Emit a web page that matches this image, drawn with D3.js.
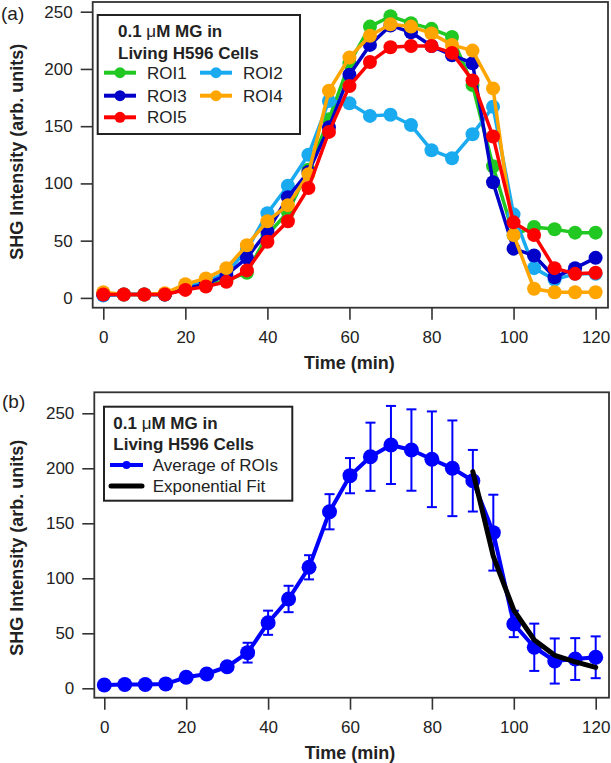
<!DOCTYPE html>
<html>
<head>
<meta charset="utf-8">
<script src="https://cdn.jsdelivr.net/npm/d3@7"></script>
<style>
  body { margin: 0; background: #fff; }
  svg { display: block; font-family: "Liberation Sans", Arial, sans-serif; }
</style>
</head>
<body>
<div id="chart"></div>
<script>
// time points (min)
var times = [0,5,10,15,20,25,30,35,40,45,50,55,60,65,70,75,80,85,90,95,100,105,110,115,120];

// panel (a): SHG intensity of each ROI
var roi1 = [3,3,3,3,8,11,15,22,55,75,112,156,205,237,246,240,235,228,186,115,55,62,60,57,57];
var roi2 = [2,3,3,3,10,14,22,42,74,98,125,172,170,159,160,151,129,122,143,167,73,26,16,21,21];
var roi3 = [3,3,3,3,8,12,20,35,58,88,110,149,195,221,238,232,220,212,205,101,43,37,18,26,35];
var roi4 = [5,3,3,4,12,17,26,46,67,81,108,181,210,229,239,237,231,221,216,183,55,8,5,5,5];
var roi5 = [3,3,3,3,7,10,14,24,49,67,96,145,185,206,219,220,220,214,190,141,66,55,26,21,22];
var roiNames = ["ROI1", "ROI2", "ROI3", "ROI4", "ROI5"];
var roiColors = ["#22c822", "#19aaf0", "#0000c8", "#ffa500", "#ff0000"];

// panel (b): average of ROIs with error, plus exponential fit
var avg = [3,3.5,3.5,4,10,13,19.6,32.4,59.6,81.2,110,160.5,193.3,210.5,221.2,216.6,208.2,200,188.7,141.5,58.5,37.3,24.8,26.6,28.2];
var avgErr = [1,1,1,1,2,3,4,9,11,12,11,16,16,31,35.5,37,43.5,43.5,28,34.5,12,21.5,20.5,19,19];
var fitTimes = [90,95,100,105,110,115,120];
var fitValues = [197,120,71,44,30,24,19];

var xTicks = [0,20,40,60,80,100,120];
var yTicks = [0,50,100,150,200,250];

var svg = d3.select("#chart").append("svg")
  .attr("width", 611)
  .attr("height", 763);

function drawFrame(x, y, box) {
  var xAxis = d3.axisBottom(x).tickValues(xTicks).tickSize(12).tickPadding(11);
  var yAxis = d3.axisLeft(y).tickValues(yTicks).tickSize(12).tickPadding(8);

  var gx = svg.append("g")
    .attr("transform", `translate(0, ${box.bottom})`)
    .call(xAxis);
  var gy = svg.append("g")
    .attr("transform", `translate(${box.left}, 0)`)
    .call(yAxis);

  [gx, gy].forEach(function(g) {
    g.select(".domain").remove();
    g.selectAll("line").attr("stroke", "#333").attr("stroke-width", 1.6);
    g.selectAll("text").attr("font-size", "17px").attr("fill", "#222")
      .attr("font-family", "Liberation Sans, Arial, sans-serif");
  });

  svg.append("rect")
    .attr("x", box.left)
    .attr("y", box.top)
    .attr("width", box.right - box.left)
    .attr("height", box.bottom - box.top)
    .attr("fill", "none")
    .attr("stroke", "#333")
    .attr("stroke-width", 1.8);

  // axis titles
  svg.append("text")
    .attr("transform", `translate(23, ${(y(0) + y(250)) / 2 - 3}) rotate(-90)`)
    .attr("text-anchor", "middle")
    .attr("font-size", "18px")
    .attr("font-weight", "bold")
    .attr("fill", "#222")
    .text("SHG Intensity (arb. units)");

  svg.append("text")
    .attr("x", (x(0) + x(120)) / 2)
    .attr("y", box.bottom + 61)
    .attr("text-anchor", "middle")
    .attr("font-size", "18px")
    .attr("font-weight", "bold")
    .attr("fill", "#222")
    .text("Time (min)");
}

function legendTitle(x0, y1, y2) {
  var t1 = svg.append("text")
    .attr("x", x0).attr("y", y1)
    .attr("font-size", "17px").attr("font-weight", "bold").attr("fill", "#222");
  t1.append("tspan").text("0.1 ");
  t1.append("tspan").attr("font-weight", "normal").text("\u03BC");
  t1.append("tspan").text("M MG in");
  svg.append("text")
    .attr("x", x0).attr("y", y2)
    .attr("font-size", "17px").attr("font-weight", "bold").attr("fill", "#222")
    .text("Living H596 Cells");
}

// ---------- panel (a) ----------
var xA = d3.scaleLinear().domain([0, 120]).range([103.3, 595.6]);
var yA = d3.scaleLinear().domain([0, 250]).range([297.9, 11.7]);
drawFrame(xA, yA, {left: 92.7, right: 608, top: 2, bottom: 307.7});

var roiData = [roi1, roi2, roi3, roi4, roi5];
var lineA = d3.line()
  .x(function(d, i) { return xA(times[i]); })
  .y(function(d) { return yA(d); });

roiData.forEach(function(series, k) {
  var g = svg.append("g");
  g.append("path")
    .datum(series)
    .attr("d", lineA)
    .attr("fill", "none")
    .attr("stroke", roiColors[k])
    .attr("stroke-width", 3.5)
    .attr("stroke-linejoin", "round");
  g.selectAll("circle")
    .data(series)
    .enter()
    .append("circle")
    .attr("cx", function(d, i) { return xA(times[i]); })
    .attr("cy", function(d) { return yA(d); })
    .attr("r", 7)
    .attr("fill", roiColors[k]);
});

// legend (a)
svg.append("rect")
  .attr("x", 97.7).attr("y", 15)
  .attr("width", 202.3).attr("height", 119)
  .attr("fill", "#fff")
  .attr("stroke", "#222")
  .attr("stroke-width", 2);
legendTitle(118, 37, 59);

var legendPos = [
  {x: 104, y: 72.7}, {x: 200, y: 72.7},
  {x: 104, y: 95.7}, {x: 200, y: 95.7},
  {x: 104, y: 117.3}
];
roiNames.forEach(function(name, k) {
  var p = legendPos[k];
  svg.append("line")
    .attr("x1", p.x).attr("x2", p.x + 32)
    .attr("y1", p.y).attr("y2", p.y)
    .attr("stroke", roiColors[k]).attr("stroke-width", 4);
  svg.append("circle")
    .attr("cx", p.x + 16).attr("cy", p.y).attr("r", 5.5)
    .attr("fill", roiColors[k]);
  svg.append("text")
    .attr("x", p.x + 43).attr("y", p.y + 6)
    .attr("font-size", "17px").attr("fill", "#222")
    .text(name);
});

svg.append("text")
  .attr("x", 1).attr("y", 20)
  .attr("font-size", "19px").attr("fill", "#222")
  .text("(a)");

// ---------- panel (b) ----------
var xB = d3.scaleLinear().domain([0, 120]).range([104.3, 595.7]);
var yB = d3.scaleLinear().domain([0, 250]).range([688.3, 413.3]);
drawFrame(xB, yB, {left: 94.3, right: 609, top: 392.3, bottom: 697.7});

var blue = "#0000ff";
var errG = svg.append("g").attr("stroke", blue).attr("stroke-width", 2);
avg.forEach(function(v, i) {
  var cx = xB(times[i]);
  var top = yB(v + avgErr[i]);
  var bot = yB(v - avgErr[i]);
  errG.append("line").attr("x1", cx).attr("x2", cx).attr("y1", top).attr("y2", bot);
  errG.append("line").attr("x1", cx - 5).attr("x2", cx + 5).attr("y1", top).attr("y2", top);
  errG.append("line").attr("x1", cx - 5).attr("x2", cx + 5).attr("y1", bot).attr("y2", bot);
});

var lineB = d3.line()
  .x(function(d, i) { return xB(times[i]); })
  .y(function(d) { return yB(d); });
svg.append("path")
  .datum(avg)
  .attr("d", lineB)
  .attr("fill", "none")
  .attr("stroke", blue)
  .attr("stroke-width", 4)
  .attr("stroke-linejoin", "round");
svg.append("g").selectAll("circle")
  .data(avg)
  .enter()
  .append("circle")
  .attr("cx", function(d, i) { return xB(times[i]); })
  .attr("cy", function(d) { return yB(d); })
  .attr("r", 7.5)
  .attr("fill", blue);

var fitLine = d3.line()
  .x(function(d, i) { return xB(fitTimes[i]); })
  .y(function(d) { return yB(d); });
svg.append("path")
  .datum(fitValues)
  .attr("d", fitLine)
  .attr("fill", "none")
  .attr("stroke", "#000")
  .attr("stroke-width", 5)
  .attr("stroke-linejoin", "round")
  .attr("stroke-linecap", "round");

// legend (b)
svg.append("rect")
  .attr("x", 104).attr("y", 406.7)
  .attr("width", 188.3).attr("height", 94)
  .attr("fill", "#fff")
  .attr("stroke", "#222")
  .attr("stroke-width", 2);
legendTitle(113.3, 429, 450);

svg.append("line")
  .attr("x1", 110).attr("x2", 143)
  .attr("y1", 465).attr("y2", 465)
  .attr("stroke", blue).attr("stroke-width", 4);
svg.append("circle")
  .attr("cx", 126.5).attr("cy", 465).attr("r", 4)
  .attr("fill", blue);
svg.append("text")
  .attr("x", 152.7).attr("y", 471)
  .attr("font-size", "17px").attr("fill", "#222")
  .text("Average of ROIs");

svg.append("line")
  .attr("x1", 111).attr("x2", 142)
  .attr("y1", 486).attr("y2", 486)
  .attr("stroke", "#000").attr("stroke-width", 5)
  .attr("stroke-linecap", "round");
svg.append("text")
  .attr("x", 152.7).attr("y", 492)
  .attr("font-size", "17px").attr("fill", "#222")
  .text("Exponential Fit");

svg.append("text")
  .attr("x", 2).attr("y", 408)
  .attr("font-size", "19px").attr("fill", "#222")
  .text("(b)");
</script>
</body>
</html>
